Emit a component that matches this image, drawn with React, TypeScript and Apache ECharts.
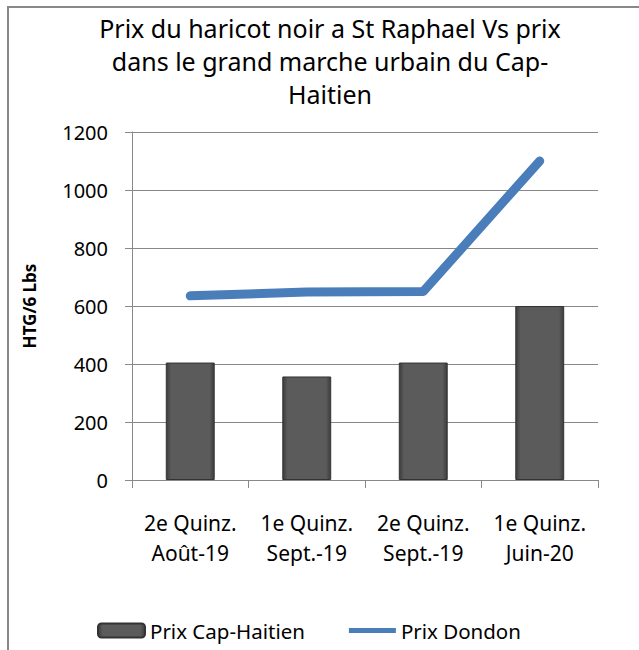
import React, { useEffect, useRef } from "react";
import * as echarts from "echarts";

const categories = ["2e Quinz.\nAoût-19", "1e Quinz.\nSept.-19", "2e Quinz.\nSept.-19", "1e Quinz.\nJuin-20"];
const capHaitien = [405, 357, 405, 600];
const dondon = [635, 648, 650, 1100];
const titleText = "Prix du haricot noir a St Raphael Vs prix\ndans le grand marche urbain du Cap-\nHaitien";
const yAxisName = "HTG/6 Lbs";
const seriesNames = ["Prix Cap-Haitien", "Prix Dondon"];

const FONT = "Noto Sans";

export default function App() {
  const ref = useRef<HTMLDivElement>(null);
  useEffect(() => {
    if (!ref.current) return;
    const chart = echarts.init(ref.current, null, { renderer: "svg" });
    const barGrad = new echarts.graphic.LinearGradient(0, 0, 1, 0, [
      { offset: 0, color: "#3c3c3c" },
      { offset: 0.1, color: "#5b5b5b" },
      { offset: 0.9, color: "#5b5b5b" },
      { offset: 1, color: "#3c3c3c" },
    ]);
    chart.setOption({
      animation: false,
      backgroundColor: "#ffffff",
      textStyle: { fontFamily: FONT },
      title: {
        text: titleText,
        left: 325,
        textAlign: "center",
        top: 6,
        textStyle: { fontFamily: FONT, fontSize: 25, fontWeight: "normal", color: "#000", lineHeight: 33 },
      },
      graphic: [
        {
          type: "rect",
          shape: { x: 8, y: 7, width: 800, height: 800 },
          style: { fill: "none", stroke: "#888888", lineWidth: 2 },
          silent: true,
          z: 100,
        },
      ],
      legend: {
        left: 92,
        top: 615,
        itemWidth: 47,
        itemHeight: 14,
        itemGap: 44,
        textStyle: { fontFamily: FONT, fontSize: 20.5, color: "#000" },
        data: [
          { name: seriesNames[0] },
          { name: seriesNames[1], icon: "path://M0 0 H47 V5 H0 Z" },
        ],
      },
      grid: { left: 132, right: 41, top: 132, bottom: 170 },
      xAxis: {
        type: "category",
        data: categories,
        boundaryGap: true,
        axisLine: { lineStyle: { color: "#888888", width: 1 } },
        axisTick: { show: true, length: 8, lineStyle: { color: "#888888" } },
        axisLabel: { fontFamily: FONT, fontSize: 21, color: "#000", lineHeight: 30, margin: 28, interval: 0 },
      },
      yAxis: {
        type: "value",
        min: 0,
        max: 1200,
        interval: 200,
        name: yAxisName,
        nameLocation: "middle",
        nameGap: 94,
        nameRotate: 90,
        nameTextStyle: { fontFamily: FONT, fontSize: 17, fontWeight: "bold", color: "#000" },
        axisLine: { show: true, lineStyle: { color: "#888888", width: 1 } },
        axisTick: { show: true, length: 7, lineStyle: { color: "#888888" } },
        splitLine: { lineStyle: { color: "#888888", width: 1 } },
        axisLabel: { fontFamily: FONT, fontSize: 20, color: "#000", margin: 24, formatter: (v: number) => String(v) },
      },
      series: [
        {
          name: seriesNames[0],
          type: "bar",
          data: capHaitien,
          barWidth: "42%",
          itemStyle: { color: barGrad, borderColor: "#333333", borderWidth: 1 },
        },
        {
          name: seriesNames[1],
          type: "line",
          data: dondon,
          symbol: "none",
          lineStyle: { color: "#4a7ebb", width: 9, cap: "round", join: "round" },
          itemStyle: { color: "#4a7ebb" },
        },
      ],
    });
    return () => chart.dispose();
  }, []);
  return (
    <div
      ref={ref}
      style={{ position: "fixed", left: 0, top: 0, width: 639, height: 650 }}
    />
  );
}
